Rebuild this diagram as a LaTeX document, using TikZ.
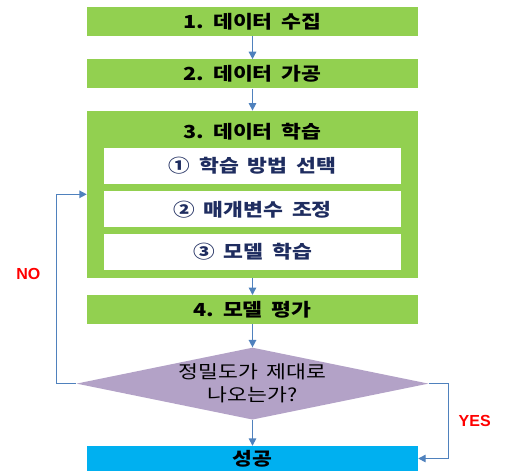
\documentclass[tikz,border=0pt]{standalone}
\usepackage{fontspec}
\setmainfont{Noto Sans CJK KR}[FakeStretch=1.2, WordSpace=1.8]
\newfontfamily\answerfont{Liberation Sans}
\usetikzlibrary{arrows.meta, positioning, shapes.geometric}
\definecolor{stepgreen}{RGB}{146,208,80}
\definecolor{checkpurple}{RGB}{179,162,199}
\definecolor{donecyan}{RGB}{0,176,240}
\definecolor{flowblue}{RGB}{79,129,189}
\definecolor{subnavy}{RGB}{31,45,96}
\definecolor{answerred}{RGB}{255,0,0}

\begin{document}
\begin{tikzpicture}[
    x=1pt, y=1pt,
    >={Triangle[length=7.5pt, width=7.5pt]},
    stepbox/.style={fill=stepgreen, minimum width=331pt, minimum height=29pt, inner sep=0pt, font=\fontsize{18}{21}\selectfont\bfseries},
    subbox/.style={fill=white, minimum width=297pt, minimum height=36pt, inner sep=0pt, text=subnavy, font=\fontsize{18}{21}\selectfont\bfseries},
    flow/.style={->, draw=flowblue, line width=1.4pt},
    answer/.style={text=answerred, font=\answerfont\fontsize{16}{18}\selectfont\bfseries},
    node distance=23pt,
]
    \useasboundingbox (0,0) rectangle (505,-472);

    % Steps
    \node[stepbox] (collect) at (252.5,-21.5) {1.\ 데이터 수집};
    \node[stepbox, below=of collect] (process) {2.\ 데이터 가공};

    % Learning block with sub-steps
    \node[stepbox, minimum height=167pt, below=22pt of process] (learn) {};
    \node[font=\fontsize{18}{21}\selectfont\bfseries, inner sep=0pt, below=12pt of learn.north] (learntitle) {3.\ 데이터 학습};
    \node[subbox, below=37pt of learn.north] (method) {① 학습 방법 선택};
    \node[subbox, below=7pt of method] (param) {② 매개변수 조정};
    \node[subbox, below=6pt of param] (train) {③ 모델 학습};

    \node[stepbox, below=17pt of learn] (evaluate) {4.\ 모델 평가};

    % Decision
    \node[diamond, fill=checkpurple, minimum width=352pt, minimum height=72pt, aspect=4.9, inner sep=0pt, align=center, font=\fontsize{18}{23}\selectfont, below=of evaluate] (check) {정밀도가 제대로\\나오는가?};

    \node[stepbox, fill=donecyan, minimum height=25pt, below=26pt of check] (success) {성공};

    % Arrows
    \draw[flow] (collect) -- (process);
    \draw[flow] (process) -- (learn);
    \draw[flow] (learn) -- (evaluate);
    \draw[flow] (evaluate) -- (check);
    \draw[flow] (check) -- (success);
    \draw[flow] (check.west) -- ++(-20,0) |- node[answer, pos=0.29, left=12pt] {NO} (learn.west);
    \draw[flow] (check.east) -- ++(20,0) |- node[answer, pos=0.25, right=6pt] {YES} (success.east);
\end{tikzpicture}
\end{document}
